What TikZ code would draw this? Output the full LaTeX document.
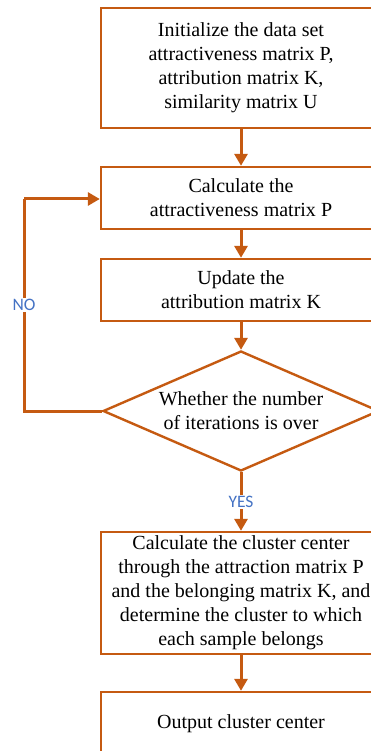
\documentclass[tikz,border=0pt]{standalone}
\usepackage{fontspec}
\setmainfont{Liberation Serif}
\newfontfamily\lblfont{Carlito}
\usetikzlibrary{shapes.geometric,arrows.meta}
\definecolor{flow}{HTML}{C55A11}
\definecolor{lbl}{HTML}{4472C4}
\begin{document}
\begin{tikzpicture}[x=1pt,y=-1pt,
  box/.style={draw=flow,line width=2.4pt,rectangle,minimum width=280pt,inner sep=0pt,align=center,font=\fontsize{20}{24}\selectfont},
  dec/.style={draw=flow,line width=2.4pt,diamond,minimum width=276pt,minimum height=120pt,inner sep=0pt},
  conn/.style={draw=flow,line width=3pt,-{Triangle[width=13pt,length=12pt]}},
  plain/.style={draw=flow,line width=3pt},
  yn/.style={fill=white,text=lbl,font=\lblfont\fontsize{17.5}{20}\selectfont,inner sep=1.5pt}]
\useasboundingbox (0,0) rectangle (371,751);
\fill[white] (0,0) rectangle (371,751);
\clip (0,0) rectangle (371,751);
\node[box,minimum height=120pt] (b1) at (241,68) {Initialize the data set\\attractiveness matrix P,\\attribution matrix K,\\similarity matrix U};
\node[box,minimum height=62pt] (b2) at (241,198) {Calculate the\\attractiveness matrix P};
\node[box,minimum height=62pt] (b3) at (241,290) {Update the\\attribution matrix K};
\node[dec] (d) at (241,411) {};
\node[align=center,font=\fontsize{20}{24}\selectfont] (dt) at (241,411) {Whether the number\\of iterations is over};
\node[box,minimum height=122pt] (b4) at (241,593) {Calculate the cluster center\\through the attraction matrix P\\and the belonging matrix K, and\\determine the cluster to which\\each sample belongs};
\node[box,minimum height=64pt] (b5) at (241,724) {Output cluster center};
\coordinate (c1) at (24,411);
\coordinate (c2) at (24,199);
\draw[conn] (b1) -- (b2);
\draw[conn] (b2) -- (b3);
\draw[conn] (b3) -- (d);
\draw[conn] (d) -- (b4);
\draw[conn] (b4) -- (b5);
\draw[plain] (d.west) -- (c1) -- (c2);
\draw[conn] (c2) -- (c2 -| b2.west);
\node[yn] (no) at (24,305) {NO};
\node[yn] (yes) at (241,502) {YES};
\end{tikzpicture}
\end{document}
